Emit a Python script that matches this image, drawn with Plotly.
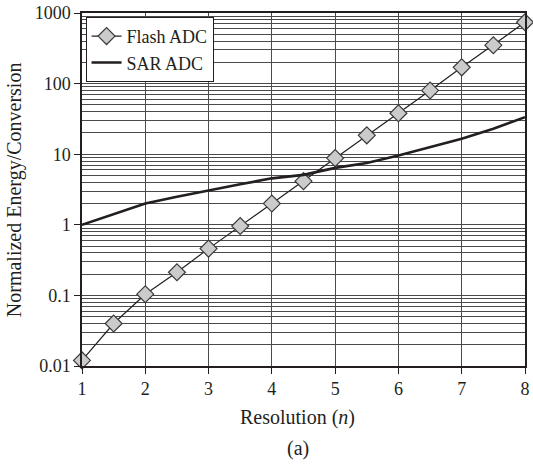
import plotly.graph_objects as go

# Resolution in bits
resolution = [1, 1.5, 2, 2.5, 3, 3.5, 4, 4.5, 5, 5.5, 6, 6.5, 7, 7.5, 8]

# Normalized energy per conversion
flash_energy = [0.012, 0.04, 0.104, 0.213, 0.46, 0.96, 2.0, 4.15, 8.8, 18.5, 38, 80, 170, 350, 740]
sar_energy = [1.0, 1.41, 2.0, 2.5, 3.08, 3.75, 4.55, 5.1, 6.4, 7.5, 9.6, 12.6, 16.6, 23, 33.5]

x_ticks = [1, 2, 3, 4, 5, 6, 7, 8]
y_ticks = [0.01, 0.1, 1, 10, 100, 1000]
y_tick_text = ["0.01", "0.1", "1", "10", "100", "1000"]
y_minor = [m * d for d in [0.01, 0.1, 1, 10, 100] for m in range(2, 10)]

FONT = "'Liberation Serif', 'DejaVu Serif', serif"
INK = "#231f20"
GRID = "#4a4a4a"

fig = go.Figure()

fig.add_trace(go.Scatter(
    x=resolution, y=flash_energy, name="Flash ADC",
    mode="lines+markers",
    line=dict(color=INK, width=1.2),
    marker=dict(symbol="diamond", size=13, color="#cbcbcb",
                line=dict(color="#3a3a3a", width=1.2)),
    cliponaxis=False,
))

fig.add_trace(go.Scatter(
    x=resolution, y=sar_energy, name="SAR ADC",
    mode="lines",
    line=dict(color=INK, width=2.6),
))

fig.update_layout(
    width=533, height=464,
    margin=dict(l=82, r=3, t=11, b=98),
    paper_bgcolor="white", plot_bgcolor="white",
    font=dict(family=FONT, size=18, color=INK),
    showlegend=True,
    legend=dict(
        x=0.008, y=0.989, xanchor="left", yanchor="top",
        bgcolor="white", bordercolor=INK, borderwidth=1,
        font=dict(family=FONT, size=18, color=INK),
        tracegroupgap=0, itemwidth=30,
    ),
    annotations=[
        dict(text="Normalized Energy/Conversion", textangle=-90,
             xref="paper", yref="paper", x=-0.152, y=0.5,
             xanchor="center", yanchor="middle", showarrow=False,
             font=dict(family=FONT, size=20, color=INK)),
        dict(text="Resolution (<i>n</i>)",
             xref="paper", yref="paper", x=0.487, y=-0.146,
             xanchor="center", yanchor="middle", showarrow=False,
             font=dict(family=FONT, size=20, color=INK)),
        dict(text="(a)",
             xref="paper", yref="paper", x=0.487, y=-0.234,
             xanchor="center", yanchor="middle", showarrow=False,
             font=dict(family=FONT, size=20, color=INK)),
    ],
)

fig.update_xaxes(
    range=[1, 8], tickvals=x_ticks,
    showgrid=True, gridcolor=GRID, gridwidth=1,
    showline=True, linecolor=INK, linewidth=1.5, mirror=True,
    ticks="outside", ticklen=6, tickcolor=INK, tickwidth=1,
    zeroline=False,
)

fig.update_yaxes(
    type="log", range=[-2, 3],
    tickvals=y_ticks, ticktext=y_tick_text,
    showgrid=True, gridcolor=GRID, gridwidth=1,
    minor=dict(tickvals=y_minor, showgrid=True, gridcolor=GRID, gridwidth=1, ticks=""),
    showline=True, linecolor=INK, linewidth=1.5, mirror=True,
    ticks="outside", ticklen=6, tickcolor=INK, tickwidth=1,
    zeroline=False,
)

fig.write_html("out.html")
